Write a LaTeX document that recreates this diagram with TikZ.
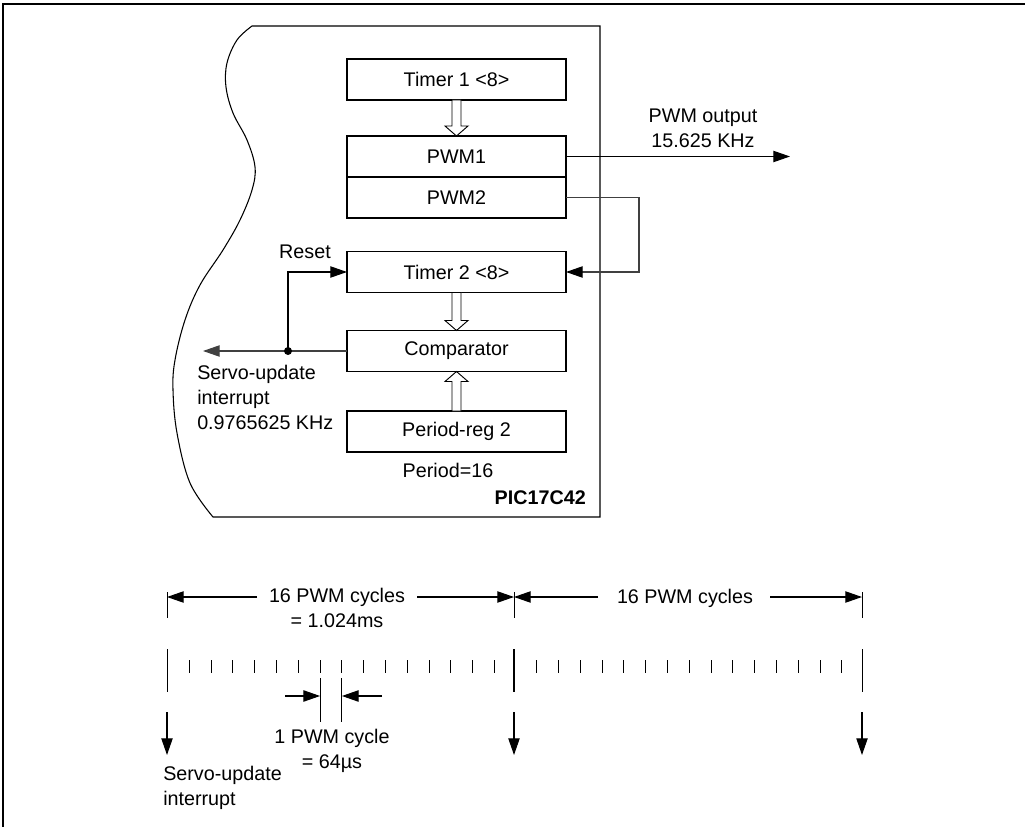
\documentclass[tikz,border=0pt]{standalone}
\usepackage{fontspec}
\setmainfont{Liberation Sans}
\usetikzlibrary{arrows.meta,calc}
\tikzset{
  blk/.style={draw,line width=0.8pt,minimum width=164.25pt,minimum height=30.75pt,inner sep=0pt,outer sep=0pt,font=\fontsize{14.8}{17}\selectfont},
  lbl/.style={inner sep=0pt,font=\fontsize{14.8}{18.75}\selectfont},
  wire/.style={line width=0.8pt},
  arr/.style={wire,-{Triangle[length=12.5pt,width=8.5pt]}},
  tk/.style={line width=0.7pt},
  mj/.style={line width=1.1pt},
}
\newcommand{\hollowarrow}[3]{%
  \draw[line width=0.7pt,fill=white] ($(#1)+(-4.5,0)$) -- ($(#2)+(-4.5,#3)$) -- ($(#2)+(-11.5,#3)$) -- (#2) -- ($(#2)+(11.5,#3)$) -- ($(#2)+(4.5,#3)$) -- ($(#1)+(4.5,0)$) -- cycle;}
\begin{document}
\begin{tikzpicture}[x=0.75pt,y=-0.75pt]
\useasboundingbox (0,0) rectangle (1025,827);
% frame (top and left)
\draw[line width=1.3pt] (3,827) -- (3,4) -- (1025,4);
% chip outline
\draw[line width=0.8pt]
  plot[smooth,tension=0.6] coordinates {(252,26) (237,40) (227,63) (226,87) (233,113) (247,140) (255,167) (252,190) (240,220) (223,250) (200,285) (185,320) (175,360) (173,390) (177,433) (190,483) (213,517)}
  -- (600,517) -- (600,26) -- cycle;
% blocks
\node[blk] (t1) at (456.5,79.5) {Timer 1 <8>};
\node[blk] (pwm1) at (456.5,156.5) {PWM1};
\node[blk] (pwm2) at (456.5,197.5) {PWM2};
\node[blk] (t2) at (456.5,272) {Timer 2 <8>};
\node[blk] (cmp) at (456.5,351) {Comparator};
\node[blk] (per) at (456.5,431.5) {Period-reg 2};
% hollow arrows
\hollowarrow{t1.south}{pwm1.north}{-10}
\hollowarrow{t2.south}{cmp.north}{-10}
\hollowarrow{per.north}{cmp.south}{10}
% PWM output
\coordinate (pwmout) at (790,156.5);
\draw[arr] (pwm1.east) -- (pwmout);
\node[lbl,align=center] (pwmlbl) at (703,128) {PWM output\\15.625 KHz};
% PWM2 loop to Timer 2
\coordinate (loopx) at (639,0);
\draw[wire,draw=black!75] (pwm2.east) -- (pwm2.east -| loopx) |- ($(t2.east)+(13,0)$);
\draw[arr] ($(t2.east)+(14,0)$) -- (t2.east);
% comparator output and reset
\coordinate (servo) at (203,351);
\coordinate (junc) at (288,351);
\draw[arr,draw=black!75] (cmp.west) -- (servo);
\fill (junc) circle (3pt);
\draw[arr] (junc) |- (t2.west);
\node[lbl] (reset) at (305,252) {Reset};
\node[lbl,align=left,anchor=west] (servolbl) at (197,397) {Servo-update\\interrupt\\0.9765625 KHz};
\node[lbl] (perlbl) at (448,470) {Period=16};
\node[lbl,anchor=east,font=\fontsize{14.8}{17}\selectfont\bfseries] (chip) at (586,498) {PIC17C42};
% ---- timing diagram ----
\coordinate (A) at (167,597);
\coordinate (B) at (514,597);
\coordinate (C) at (862,597);
\foreach \x in {167,514,862} {\draw[tk] (\x,592) -- (\x,618);}
\coordinate (a1) at (257,597);
\coordinate (a2) at (417,597);
\coordinate (b1) at (598,597);
\coordinate (b2) at (770,597);
\draw[arr] (a1) -- (A);
\draw[arr] (a2) -- (B);
\draw[arr] (b1) -- (B);
\draw[arr] (b2) -- (C);
\node[lbl,align=center,anchor=north] (cyc1) at (337,588) {16 PWM cycles\\= 1.024ms};
\node[lbl] (cyc2) at (685,598) {16 PWM cycles};
% tick row
\foreach \k in {0,...,14} {
  \draw[tk] ({189.3+21.8*\k},660) -- ({189.3+21.8*\k},673);
  \draw[tk] ({536.7+21.8*\k},660) -- ({536.7+21.8*\k},673);
}
\draw[tk] (167,649) -- (167,692);
\draw[mj] (514,649) -- (514,692);
\draw[tk] (862,649) -- (862,692);
% servo interrupt arrows
\foreach \x/\n in {167/d1,514/d2,862/d3} {
  \coordinate (\n s) at (\x,712);
  \coordinate (\n e) at (\x,755);
  \draw[arr] (\n s) -- (\n e);
}
% 1 PWM cycle
\coordinate (p1) at (320.1,678);
\coordinate (p2) at (341.9,678);
\draw[tk] (p1) -- ++(0,44);
\draw[tk] (p2) -- ++(0,44);
\coordinate (q1) at (285,696);
\coordinate (q2) at (382,696);
\draw[arr] (q1) -- (q1 -| p1);
\draw[arr] (q2) -- (q2 -| p2);
\node[lbl,align=center,anchor=north] (onecyc) at (332,729) {1 PWM cycle\\= 64µs};
\node[lbl,align=left,anchor=north west] (servo2) at (163,766) {Servo-update\\interrupt};
\end{tikzpicture}
\end{document}
